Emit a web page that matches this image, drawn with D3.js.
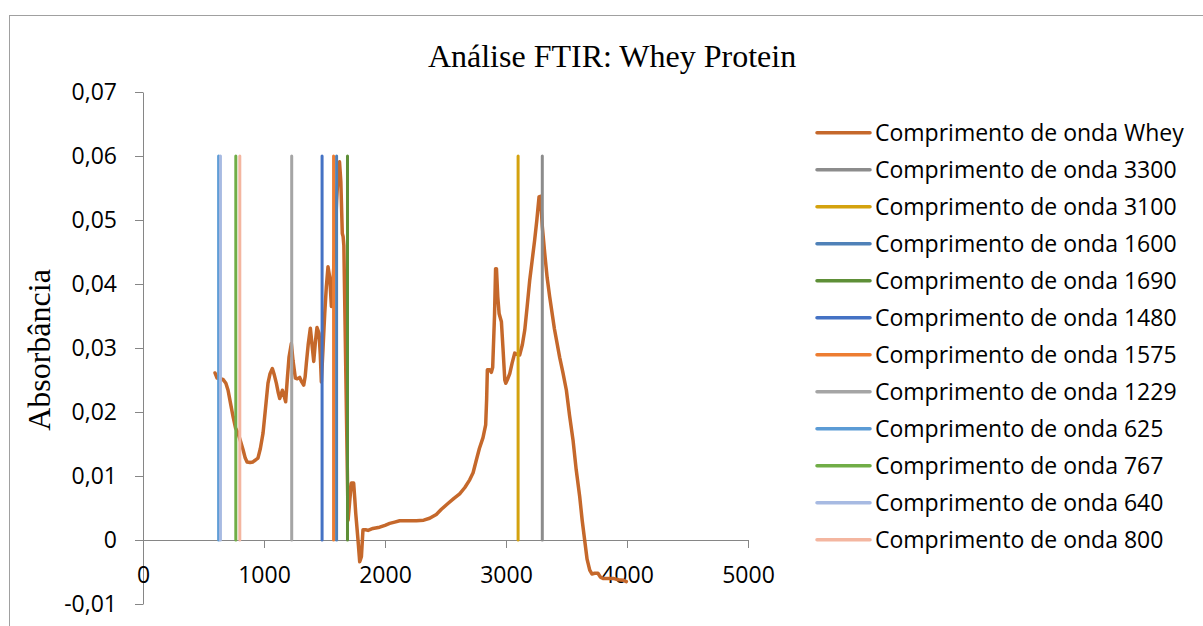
<!DOCTYPE html>
<html>
<head>
<meta charset="utf-8">
<script src="https://cdn.jsdelivr.net/npm/d3@7"></script>
<style>
	body { margin: 0; background: #fff; }
	svg { display: block; }
	.tick text, .legend_text { font-family: "Open Sans", sans-serif; font-size: 23px; fill: #000; }
</style>
</head>
<body>
<svg id="chart" width="1203" height="626"></svg>
<script>
// whey spectrum
var wheyWave = [595, 612, 640, 661, 685, 703, 725, 744, 765, 785, 805, 827, 845, 860, 885, 909, 930, 950, 970, 992,
	1012, 1033, 1050, 1069, 1085, 1102, 1118, 1130, 1142, 1152, 1165, 1179, 1192, 1207, 1226, 1240, 1259, 1275, 1295, 1312,
	1328, 1340, 1350, 1365, 1383, 1397, 1411, 1425, 1438, 1455, 1465, 1474, 1488, 1502, 1515, 1529, 1543, 1557, 1570, 1585,
	1600, 1615, 1624, 1635, 1647, 1654, 1660, 1695, 1708, 1722, 1741, 1750, 1758, 1777, 1791, 1805, 1818, 1840, 1860, 1900,
	1956, 2000, 2039, 2080, 2121, 2180, 2259, 2320, 2369, 2424, 2466, 2520, 2570, 2617, 2660, 2700, 2728, 2755, 2780, 2810,
	2832, 2840, 2846, 2865, 2879, 2890, 2905, 2914, 2921, 2932, 2943, 2962, 2975, 2990, 2998, 3015, 3031, 3050, 3072, 3090,
	3113, 3135, 3155, 3175, 3196, 3215, 3237, 3255, 3273, 3285, 3300, 3320, 3340, 3361, 3400, 3444, 3470, 3499, 3525, 3554,
	3580, 3609, 3630, 3650, 3670, 3692, 3710, 3733, 3760, 3780, 3802, 3840, 3884, 3930, 3970, 3995];
var wheyAbs = [0.0261, 0.0253, 0.0252, 0.0251, 0.0245, 0.0234, 0.0212, 0.0193, 0.0175, 0.0167, 0.0155, 0.0141, 0.0128, 0.0122, 0.0121, 0.0122, 0.0125, 0.0128, 0.0143, 0.0167,
	0.0205, 0.0245, 0.0260, 0.0268, 0.0258, 0.0245, 0.0230, 0.0221, 0.0228, 0.0234, 0.0226, 0.0216, 0.0250, 0.0286, 0.0307, 0.0280, 0.0253, 0.0252, 0.0254, 0.0247,
	0.0242, 0.0255, 0.0276, 0.0305, 0.0331, 0.0305, 0.0279, 0.0310, 0.0332, 0.0323, 0.0290, 0.0247, 0.0300, 0.0354, 0.0395, 0.0427, 0.0411, 0.0365, 0.0400, 0.0460,
	0.0530, 0.0580, 0.0591, 0.0560, 0.0479, 0.0474, 0.0460, 0.0031, 0.0060, 0.0089, 0.0089, 0.0065, 0.0042, 0.0000, -0.0034, -0.0026, 0.0016, 0.0016, 0.0015, 0.0018,
	0.0020, 0.0023, 0.0026, 0.0028, 0.0030, 0.0030, 0.0030, 0.0031, 0.0034, 0.0040, 0.0048, 0.0057, 0.0065, 0.0072, 0.0082, 0.0094, 0.0105, 0.0125, 0.0143, 0.0160,
	0.0180, 0.0220, 0.0266, 0.0266, 0.0262, 0.0270, 0.0350, 0.0424, 0.0424, 0.0380, 0.0354, 0.0341, 0.0300, 0.0250, 0.0245, 0.0252, 0.0260, 0.0276, 0.0292, 0.0290,
	0.0289, 0.0305, 0.0328, 0.0365, 0.0406, 0.0435, 0.0469, 0.0500, 0.0536, 0.0537, 0.0490, 0.0448, 0.0410, 0.0380, 0.0330, 0.0285, 0.0262, 0.0234, 0.0195, 0.0156,
	0.0110, 0.0068, 0.0030, 0.0000, -0.0030, -0.0047, -0.0053, -0.0052, -0.0052, -0.0058, -0.0060, -0.0060, -0.0060, -0.0062, -0.0063, -0.0065];

// marker wavelengths, in legend order
var markerWaves = [3300, 3100, 1600, 1690, 1480, 1575, 1229, 625, 767, 640, 800];
var markerLow = 0;
var markerHigh = 0.06;

var seriesNames = ["Comprimento de onda Whey"].concat(markerWaves.map(function(w) {
	return "Comprimento de onda " + w;
}));
var seriesColors = ["#C5682B", "#8C8C8C", "#D4A20E", "#4F81B8", "#5E8F37", "#4472C4", "#ED7D31",
	"#A5A5A5", "#5B9BD5", "#70AD47", "#A7BAE2", "#F4B6A0"];

var xTicks = [0, 1000, 2000, 3000, 4000, 5000];
var yTicks = [-0.01, 0, 0.01, 0.02, 0.03, 0.04, 0.05, 0.06, 0.07];

var title = "Análise FTIR: Whey Protein";
var yTitle = "Absorbância";

var svg = d3.select("#chart");

//chart frame
svg.append("rect")
	.attr("x", 9.5)
	.attr("y", 15.5)
	.attr("width", 1220)
	.attr("height", 640)
	.attr("fill", "#fff")
	.attr("stroke", "#A0A0A0")
	.attr("stroke-width", 1);

var x = d3.scaleLinear().domain([0, 5000]).range([143, 748]);
var y = d3.scaleLinear().domain([-0.01, 0.07]).range([604, 92]);

var locale = d3.formatLocale({decimal: ",", thousands: ".", grouping: [3], currency: ["", ""], minus: "-"});
var fmtY = locale.format(".2f");

//y axis
var yAxis = svg.append("g")
	.attr("transform", "translate(" + x(0) + ",0)")
	.call(d3.axisLeft(y)
		.tickValues(yTicks)
		.tickSize(8)
		.tickSizeOuter(0)
		.tickPadding(18)
		.tickFormat(function(d) {
			return Math.abs(d) < 1e-9 ? "0" : fmtY(d);
		}));

//x axis
var xAxis = svg.append("g")
	.attr("transform", "translate(0," + y(0) + ")")
	.call(d3.axisBottom(x)
		.tickValues(xTicks)
		.tickSize(8)
		.tickSizeOuter(0)
		.tickPadding(19)
		.tickFormat(d3.format("d")));

[yAxis, xAxis].forEach(function(a) {
	a.selectAll("path, line").attr("stroke", "#868686").attr("stroke-width", 1);
	a.selectAll("text").attr("font-family", null).attr("font-size", null);
});

//whey line
var line = d3.line()
	.x(function(d) { return x(d[0]); })
	.y(function(d) { return y(d[1]); });

svg.append("path")
	.datum(wheyWave.map(function(w, i) { return [w, wheyAbs[i]]; }))
	.attr("d", line)
	.attr("fill", "none")
	.attr("stroke", seriesColors[0])
	.attr("stroke-width", 3.5)
	.attr("stroke-linejoin", "round")
	.attr("stroke-linecap", "round");

//vertical marker lines, drawn after whey like the series order
svg.selectAll(".marker")
	.data(markerWaves)
	.enter()
	.append("path")
	.attr("class", "marker")
	.attr("d", function(w) {
		return line([[w, markerLow], [w, markerHigh]]);
	})
	.attr("fill", "none")
	.attr("stroke", function(d, i) {
		return seriesColors[i + 1];
	})
	.attr("stroke-width", 3)
	.attr("stroke-linecap", "round");

//title
svg.append("text")
	.attr("x", 612)
	.attr("y", 67)
	.attr("text-anchor", "middle")
	.attr("font-family", "'Liberation Serif', 'Times New Roman', serif")
	.attr("font-size", 32)
	.text(title);

//y axis title
svg.append("text")
	.attr("transform", "translate(50,350) rotate(-90)")
	.attr("text-anchor", "middle")
	.attr("font-family", "'Liberation Serif', 'Times New Roman', serif")
	.attr("font-size", 32)
	.text(yTitle);

//legend
var legend = svg.selectAll(".legend")
	.data(seriesNames)
	.enter()
	.append("g")
	.attr("class", "legend")
	.attr("transform", function(d, i) {
		return "translate(0," + (132.7 + i * 37) + ")";
	});

legend.append("line")
	.attr("x1", 817)
	.attr("x2", 870)
	.attr("stroke", function(d, i) {
		return seriesColors[i];
	})
	.attr("stroke-width", 3.5)
	.attr("stroke-linecap", "round");

legend.append("text")
	.attr("class", "legend_text")
	.attr("x", 875)
	.attr("dy", "0.36em")
	.text(function(d) {
		return d;
	});
</script>
</body>
</html>
